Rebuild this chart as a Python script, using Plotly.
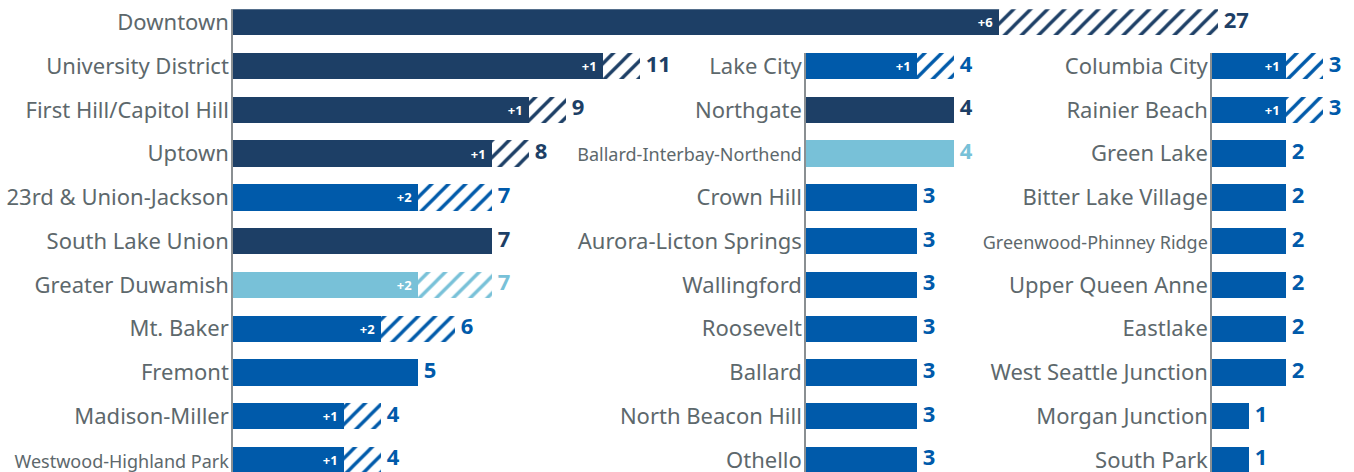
import plotly.graph_objects as go

# ---------------- data ----------------
left_names = ["Downtown", "University District", "First Hill/Capitol Hill", "Uptown",
              "23rd & Union-Jackson", "South Lake Union", "Greater Duwamish", "Mt. Baker",
              "Fremont", "Madison-Miller", "Westwood-Highland Park"]
left_totals = [27, 11, 9, 8, 7, 7, 7, 6, 5, 4, 4]
left_added = [6, 1, 1, 1, 2, 0, 2, 2, 0, 1, 1]
left_type = ["metro", "metro", "metro", "metro", "hub", "metro", "mic", "hub", "hub", "hub", "hub"]

mid_names = ["Lake City", "Northgate", "Ballard-Interbay-Northend", "Crown Hill",
             "Aurora-Licton Springs", "Wallingford", "Roosevelt", "Ballard",
             "North Beacon Hill", "Othello"]
mid_totals = [4, 4, 4, 3, 3, 3, 3, 3, 3, 3]
mid_added = [1, 0, 0, 0, 0, 0, 0, 0, 0, 0]
mid_type = ["hub", "metro", "mic", "hub", "hub", "hub", "hub", "hub", "hub", "hub"]

right_names = ["Columbia City", "Rainier Beach", "Green Lake", "Bitter Lake Village",
               "Greenwood-Phinney Ridge", "Upper Queen Anne", "Eastlake",
               "West Seattle Junction", "Morgan Junction", "South Park"]
right_totals = [3, 3, 2, 2, 2, 2, 2, 2, 1, 1]
right_added = [1, 1, 0, 0, 0, 0, 0, 0, 0, 0]
right_type = ["hub"] * 10

small_labels = {"Ballard-Interbay-Northend", "Greenwood-Phinney Ridge", "Westwood-Highland Park"}

# ---------------- style ----------------
COLORS = {"metro": "#1d3f66", "hub": "#005aaa", "mic": "#78c1d8"}
LABEL_COLOR = "#5d686c"
FONT = "Noto Sans"
W, H = 1354, 472
ROW = 43.77          # px per row
UNIT = 37.0          # px per count
BARW = 0.6
NB = "\u00a0"

fig = go.Figure()


def add_column(names, totals, added, types, rows, xa, ya):
    solid = [t - a for t, a in zip(totals, added)]
    cols = [COLORS[t] for t in types]
    fig.add_trace(go.Bar(
        x=solid, y=rows, orientation="h", width=BARW,
        marker=dict(color=cols, line=dict(width=0)),
        text=[f"+{a}{NB}" if a else "" for a in added],
        textposition="inside", insidetextanchor="end", textangle=0,
        textfont=dict(color="white", size=13, family=FONT, weight="bold"),
        xaxis=xa, yaxis=ya, showlegend=False, hoverinfo="skip"))
    fig.add_trace(go.Bar(
        x=added, base=solid, y=rows, orientation="h", width=BARW,
        marker=dict(color=cols, line=dict(width=0),
                    pattern=dict(shape="/", fgcolor="white", fgopacity=1,
                                 bgcolor=cols,
                                 size=12, solidity=0.28, fillmode="replace")),
        xaxis=xa, yaxis=ya, showlegend=False, hoverinfo="skip"))
    fig.add_trace(go.Scatter(
        x=totals, y=rows, mode="text", text=[NB + str(t) for t in totals],
        textposition="middle right", cliponaxis=False,
        textfont=dict(color=cols, size=22, family=FONT, weight="bold"),
        xaxis=xa, yaxis=ya, showlegend=False, hoverinfo="skip"))


def tick_text(names):
    out = []
    for n in names:
        if n in small_labels:
            out.append(f"<span style='font-size:18px'>{n}</span>")
        else:
            out.append(n)
    return out


left_rows = list(range(len(left_names)))
mid_rows = list(range(1, len(mid_names) + 1))
right_rows = list(range(1, len(right_names) + 1))

# Downtown (its own scale) on x4, rest of left column on x
add_column(left_names[:1], left_totals[:1], left_added[:1], left_type[:1], left_rows[:1], "x4", "y")
add_column(left_names[1:], left_totals[1:], left_added[1:], left_type[1:], left_rows[1:], "x", "y")
add_column(mid_names, mid_totals, mid_added, mid_type, mid_rows, "x2", "y2")
add_column(right_names, right_totals, right_added, right_type, right_rows, "x3", "y3")

x_left, x_mid, x_right = 233, 806, 1212
first_center = 22.3
bottom_row = (H - first_center) / ROW


def yaxis(names, rows, first_row):
    top_px = first_center + (first_row - BARW / 2) * ROW
    return dict(domain=[0, 1 - top_px / H],
                range=[bottom_row, first_row - BARW / 2],
                tickvals=rows, ticktext=tick_text(names),
                showline=True, linecolor="#8a8f92", linewidth=1.5,
                ticks="", showgrid=False, zeroline=False,
                ticklabelstandoff=-2, automargin=False,
                ticklabeloverflow="allow",
                tickfont=dict(family=FONT, size=22, color=LABEL_COLOR))


def xaxis(x0, xmax, anchor):
    return dict(domain=[x0 / W, 1], range=[0, xmax], visible=False,
                anchor=anchor, automargin=False)


fig.update_layout(
    width=W, height=H,
    margin=dict(l=0, r=0, t=0, b=0, pad=0),
    paper_bgcolor="white", plot_bgcolor="rgba(0,0,0,0)",
    barmode="stack", showlegend=False,
    font=dict(family=FONT),
    xaxis=xaxis(x_left, (W - x_left) / UNIT, "y"),
    xaxis4=xaxis(x_left, left_totals[0] * (W - x_left) / 985.0, "y"),
    xaxis2=xaxis(x_mid, (W - x_mid) / UNIT, "y2"),
    xaxis3=xaxis(x_right, (W - x_right) / UNIT, "y3"),
    yaxis=dict(anchor="x", **yaxis(left_names, left_rows, 0)),
    yaxis2=dict(anchor="x2", **yaxis(mid_names, mid_rows, 1)),
    yaxis3=dict(anchor="x3", **yaxis(right_names, right_rows, 1)),
)

fig.write_html("out.html", config={"displayModeBar": False},
               post_script="document.body.style.margin='0';")
